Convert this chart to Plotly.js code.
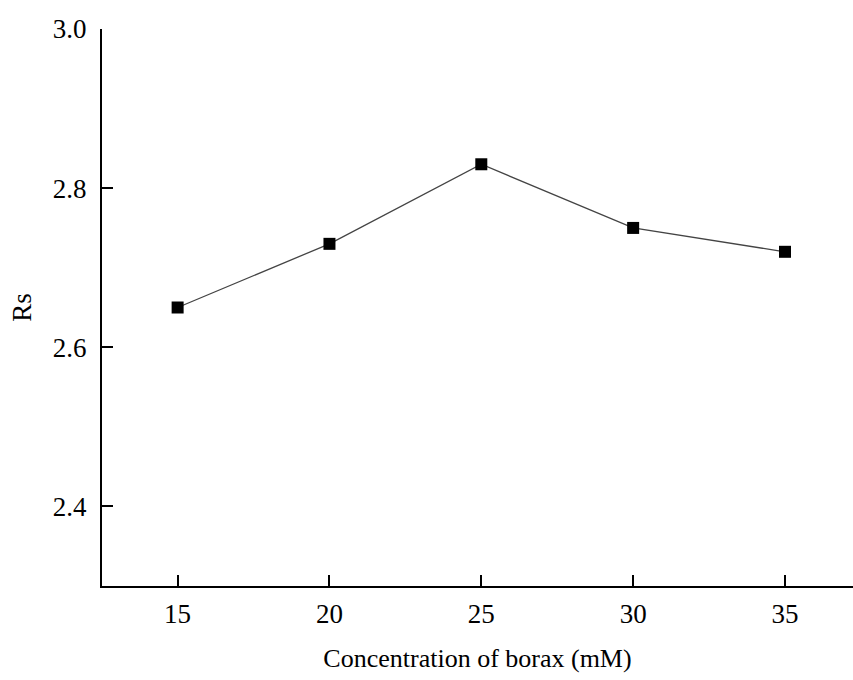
<!DOCTYPE html>
<html>
<head>
<meta charset="utf-8">
<script src="https://cdn.plot.ly/plotly-3.0.1.min.js"></script>
<style>html,body{margin:0;padding:0;background:#fff;}#chart{width:853px;height:680px;}</style>
</head>
<body>
<div id="chart"></div>
<script>
const concentration = [15, 20, 25, 30, 35];
const rsValues = [2.65, 2.73, 2.83, 2.75, 2.72];
const xTicks = [15, 20, 25, 30, 35];
const yTicks = [2.4, 2.6, 2.8, 3.0];
const yTickLabels = ['2.4', '2.6', '2.8', '3.0'];

const font = 'Liberation Serif, Times New Roman, serif';

const trace = {
  x: concentration,
  y: rsValues,
  type: 'scatter',
  mode: 'lines+markers',
  line: {color: '#444444', width: 1.3},
  marker: {symbol: 'square', size: 12, color: '#000000'},
  showlegend: false,
  cliponaxis: false
};

const layout = {
  width: 853,
  height: 680,
  margin: {l: 102, r: 0, t: 29, b: 94},
  paper_bgcolor: '#ffffff',
  plot_bgcolor: '#ffffff',
  font: {family: font, color: '#000000', size: 26},
  xaxis: {
    range: [12.51, 37.24],
    tickvals: xTicks,
    ticktext: xTicks.map(String),
    ticks: 'inside',
    ticklen: 11,
    tickwidth: 2,
    tickcolor: '#000',
    showline: true,
    linecolor: '#000',
    linewidth: 2,
    showgrid: false,
    zeroline: false,
    ticklabelstandoff: 3,
    tickfont: {family: font, size: 27, color: '#000'},
    title: {text: 'Concentration of borax (mM)', font: {family: font, size: 26, color: '#000'}, standoff: 20}
  },
  yaxis: {
    range: [2.3, 3.0],
    tickvals: yTicks,
    ticktext: yTickLabels,
    ticks: 'inside',
    ticklen: 11,
    tickwidth: 2,
    tickcolor: '#000',
    showline: true,
    linecolor: '#000',
    linewidth: 2,
    showgrid: false,
    zeroline: false,
    ticklabelstandoff: 8,
    tickfont: {family: font, size: 27, color: '#000'},
    title: {text: 'Rs', font: {family: font, size: 27, color: '#000'}, standoff: 13}
  }
};

Plotly.newPlot('chart', [trace], layout, {displayModeBar: false, staticPlot: true});
</script>
</body>
</html>
